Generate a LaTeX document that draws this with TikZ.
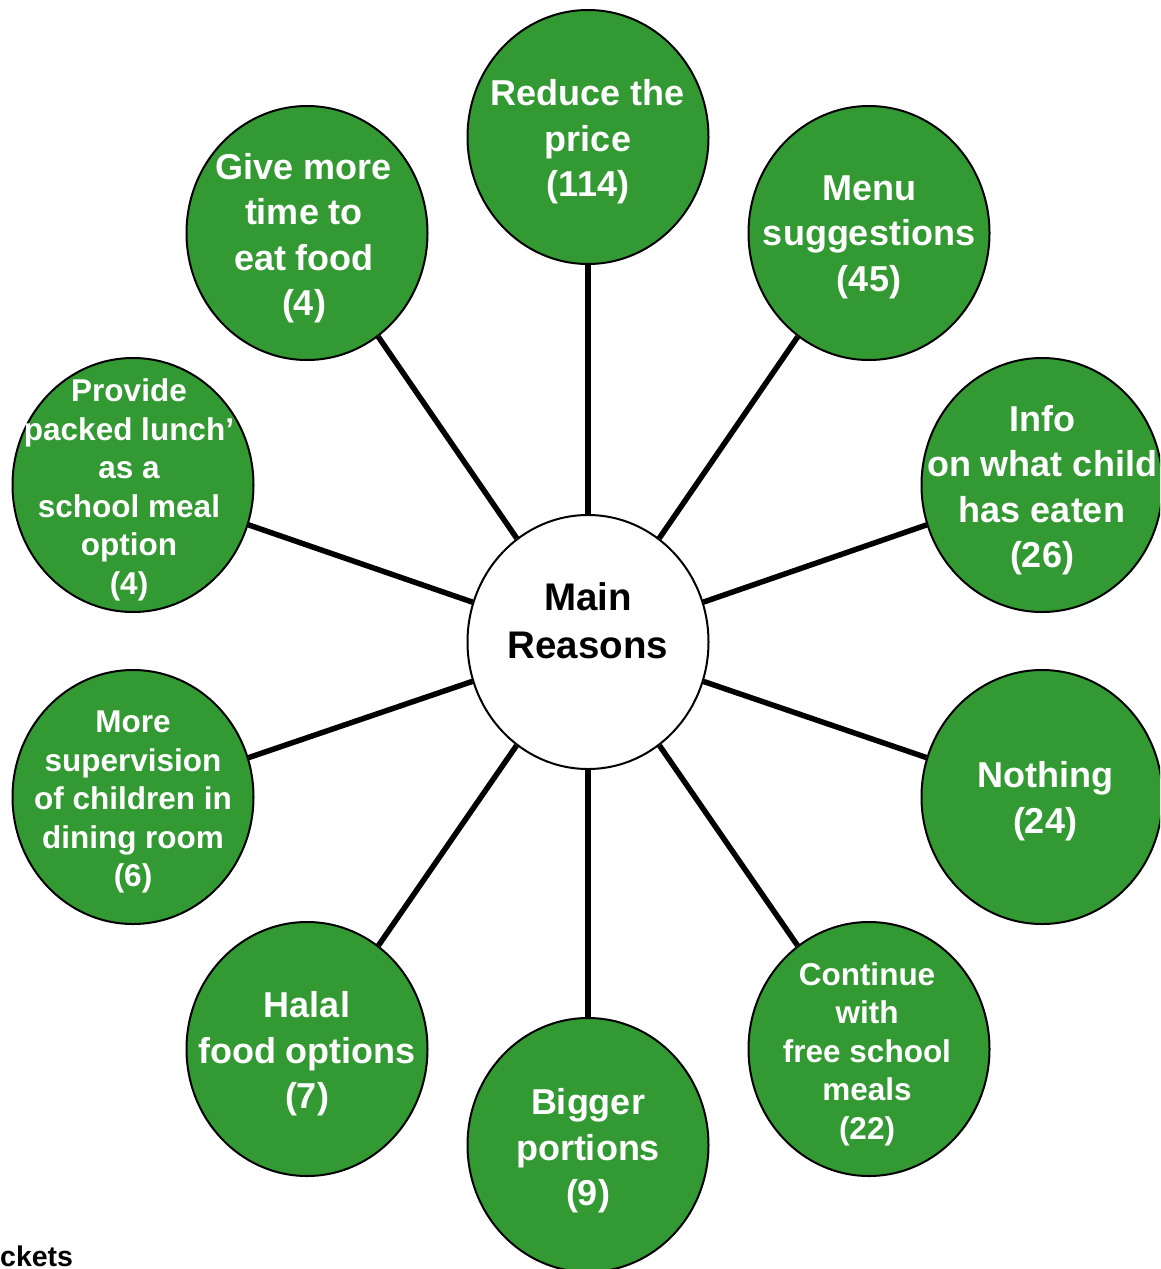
\documentclass[tikz,border=0pt]{standalone}
\usepackage{fontspec}
\setmainfont{Liberation Sans}
\usetikzlibrary{shapes.geometric}
\definecolor{leafgreen}{RGB}{51,153,51}
\tikzset{
  sat/.style={ellipse, draw=black, line width=2pt, fill=leafgreen,
    minimum width=241pt, minimum height=254pt, inner sep=0pt},
  bigtxt/.style={text=white, align=center, inner sep=0pt, font=\fontsize{36}{45.5}\selectfont\bfseries},
  smalltxt/.style={text=white, align=center, inner sep=0pt, font=\fontsize{31.5}{38.5}\selectfont\bfseries},
  hub/.style={ellipse, draw=black, line width=2pt, fill=white,
    minimum width=241pt, minimum height=254pt, inner sep=0pt},
  spoke/.style={line width=5.5pt, draw=black}
}
\begin{document}
\begin{tikzpicture}[x=1pt,y=-1pt]
\clip (0,0) rectangle (1160,1269);
\node[hub] (main) at (588,642) {};
\node[sat] (price) at (588,137) {};
\node[sat] (menu) at (869,233) {};
\node[sat] (info) at (1042,485) {};
\node[sat] (nothing) at (1042,797) {};
\node[sat] (free) at (869,1049) {};
\node[sat] (bigger) at (588,1145) {};
\node[sat] (halal) at (307,1049) {};
\node[sat] (superv) at (133,797) {};
\node[sat] (packed) at (133,485) {};
\node[sat] (time) at (307,233) {};
\foreach \n in {price,menu,info,nothing,free,bigger,halal,superv,packed,time}
  \draw[spoke] (main) -- (\n);
\node[font=\fontsize{38.5}{48}\selectfont\bfseries, align=center, inner sep=0pt] (mainlbl) at (588,621) {Main\\Reasons};
\node[bigtxt] (pricelbl) at (588,142) {Reduce the\\price\\(114)};
\node[bigtxt] (menulbl) at (869,237) {Menu\\suggestions\\(45)};
\node[bigtxt] (infolbl) at (1042,490) {Info\\on what child\\has eaten\\(26)};
\node[bigtxt] (nothinglbl) at (1045,801) {Nothing\\(24)};
\node[smalltxt] (freelbl) at (867,1054) {Continue\\with\\free school\\meals\\(22)};
\node[bigtxt] (biggerlbl) at (588,1151) {Bigger\\portions\\(9)};
\node[bigtxt] (halallbl) at (307,1054) {Halal\\food options\\(7)};
\node[smalltxt] (supervlbl) at (133,802) {More\\supervision\\of children in\\dining room\\(6)};
\node[smalltxt] (packedlbl) at (129,490) {Provide\\packed lunch’\\as a\\school meal\\option\\(4)};
\node[bigtxt] (timelbl) at (304,238) {Give more\\time to\\eat food\\(4)};
\node[anchor=base west, inner sep=0pt, font=\fontsize{28.5}{34}\selectfont\bfseries] (note) at (0,1266) {ckets};
\end{tikzpicture}
\end{document}
